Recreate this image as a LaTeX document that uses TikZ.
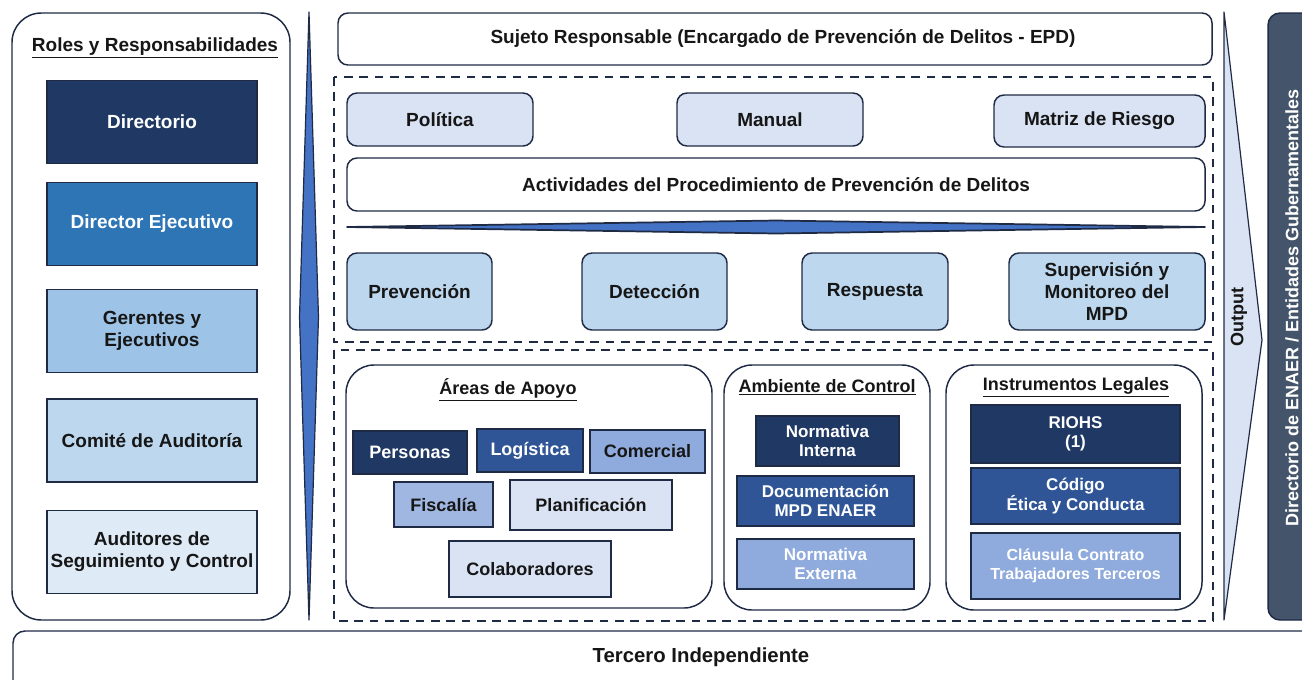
\documentclass[tikz,border=0pt]{standalone}
\usepackage{fontspec}
\setmainfont{Liberation Sans}
\usepackage{xcolor}
\definecolor{edge}{RGB}{31,42,68}
\definecolor{navy}{RGB}{31,56,100}
\definecolor{midblue}{RGB}{46,117,182}
\definecolor{royal}{RGB}{47,85,151}
\definecolor{periw}{RGB}{143,170,220}
\definecolor{sky}{RGB}{157,195,230}
\definecolor{pale}{RGB}{189,215,238}
\definecolor{paler}{RGB}{222,235,247}
\definecolor{ice}{RGB}{218,227,243}
\definecolor{slate}{RGB}{68,84,106}
\definecolor{spindle}{RGB}{68,114,196}
\definecolor{ink}{RGB}{22,22,22}

\tikzset{
  box/.style={draw=edge, line width=1.1pt, align=center, inner sep=0pt, text=ink,
    font=\bfseries\fontsize{14.25}{16.5}\selectfont},
  rbox/.style={box, rounded corners=7.5pt},
  darkbox/.style={box, text=white},
  mid/.style={font=\bfseries\fontsize{13.5}{15.5}\selectfont},
  small/.style={font=\bfseries\fontsize{12.75}{14.5}\selectfont},
  title/.style={inner sep=0pt, text=ink, font=\bfseries\fontsize{14.25}{16.5}\selectfont},
  panel/.style={draw=edge, line width=1.1pt, rounded corners=22pt},
  dashbox/.style={draw=edge, line width=1.1pt, dash pattern={on 6.5pt off 5pt}},
  wedge/.style={draw=edge, line width=0.9pt, line join=round}
}

\begin{document}
\begin{tikzpicture}[x=0.75pt,y=0.75pt,yscale=-1]
\useasboundingbox (0,0) rectangle (1302,679);
\clip (0,0) rectangle (1302,679);

%Shape: Rounded Rect (roles)
\draw [panel] (12,13) rectangle (290,620);
% Text Node
\node [title] (roles) at (155,48) {\underline{Roles y Responsabilidades}};
\node [darkbox, fill=navy, minimum width=157.5pt, minimum height=62.25pt] (directorio) at (152,122) {Directorio};
\node [darkbox, fill=midblue, minimum width=157.5pt, minimum height=62.25pt] (direjec) at (152,224) {Director Ejecutivo};
\node [box, fill=sky, minimum width=157.5pt, minimum height=62.25pt] (gerentes) at (152,331) {Gerentes y\\Ejecutivos};
\node [box, fill=pale, minimum width=157.5pt, minimum height=62.25pt] (comite) at (152,440.5) {Comité de Auditoría};
\node [box, fill=paler, minimum width=157.5pt, minimum height=62.25pt] (auditores) at (152,552) {Auditores de\\Seguimiento y Control};

%Shape: Vertical Spindle
\draw [wedge, fill=spindle] (309,12) -- (318.5,317) -- (309,620) -- (299.5,317) -- cycle;

% Text Node
\node [rbox, fill=white, minimum width=655.5pt, minimum height=39pt] (sujeto) at (775,39) {\hspace*{12pt}Sujeto Responsable (Encargado de Prevención de Delitos - EPD)};

%Shape: Dashed Rect (upper)
\draw [dashbox] (334,77) rectangle (1213,342);
\node [rbox, fill=ice, minimum width=139.5pt, minimum height=39.75pt] (politica) at (440,119.5) {Política};
\node [rbox, fill=ice, minimum width=139.5pt, minimum height=39.75pt] (manual) at (770,119.5) {Manual};
\node [rbox, fill=ice, minimum width=158.25pt, minimum height=39pt] (matriz) at (1099.5,121) {Matriz de Riesgo};
\node [rbox, fill=white, minimum width=643.5pt, minimum height=39.75pt] (actividades) at (776,184.5) {Actividades del Procedimiento de Prevención de Delitos};

%Shape: Horizontal Spindle
\draw [wedge, fill=spindle, line width=1.3pt] (347,227) -- (776,220.5) -- (1205,227) -- (776,233.5) -- cycle;

\node [rbox, fill=pale, minimum width=108.75pt, minimum height=57.75pt] (prevencion) at (419.5,291.5) {Prevención};
\node [rbox, fill=pale, minimum width=108.75pt, minimum height=57.75pt] (deteccion) at (654.5,291.5) {Detección};
\node [rbox, fill=pale, minimum width=109.5pt, minimum height=57.75pt] (respuesta) at (875,291.5) {Respuesta};
\node [rbox, fill=pale, minimum width=147pt, minimum height=57.75pt] (supervision) at (1107,291.5) {Supervisión y\\Monitoreo del\\MPD};

%Shape: Dashed Rect (lower)
\draw [dashbox] (334,350) rectangle (1213,621);

%Shape: Rounded Rect (areas)
\draw [panel, rounded corners=21pt] (346,365) rectangle (712,608);
\node [title, mid] (areas) at (508,390) {\underline{Áreas de Apoyo}};
\node [darkbox, mid, fill=navy, minimum width=85.5pt, minimum height=32.25pt] (personas) at (410,452.5) {Personas};
\node [darkbox, mid, fill=royal, minimum width=79.5pt, minimum height=32.25pt] (logistica) at (530,450.5) {Logística};
\node [box, mid, fill=periw, minimum width=86.25pt, minimum height=32.25pt] (comercial) at (647.5,451.5) {Comercial};
\node [box, mid, fill=periw!85!white, minimum width=74.25pt, minimum height=33.75pt] (fiscalia) at (443.5,504.5) {Fiscalía};
\node [box, mid, fill=ice, minimum width=121.5pt, minimum height=37.5pt] (planificacion) at (591,505) {Planificación};
\node [box, mid, fill=ice, minimum width=121.5pt, minimum height=42pt] (colaboradores) at (530,569) {Colaboradores};

%Shape: Rounded Rect (ambiente)
\draw [panel, rounded corners=21pt] (724,365) rectangle (930,610);
\node [title, mid] (ambiente) at (827,387) {\underline{Ambiente de Control}};
\node [darkbox, small, fill=navy, minimum width=107.25pt, minimum height=37.5pt] (normint) at (827.5,441) {Normativa\\Interna};
\node [darkbox, small, fill=royal, minimum width=132.75pt, minimum height=37.5pt] (docmpd) at (825.5,501) {Documentación\\MPD ENAER};
\node [darkbox, small, fill=periw, minimum width=132.75pt, minimum height=37.5pt] (normext) at (825.5,564) {Normativa\\Externa};

%Shape: Rounded Rect (instrumentos)
\draw [panel, rounded corners=21pt] (946,365) rectangle (1202,610);
\node [title, mid] (instrumentos) at (1076,387) {\underline{Instrumentos Legales}};
\node [darkbox, small, fill=navy, minimum width=156.75pt, minimum height=43.5pt] (riohs) at (1075.5,434) {RIOHS\\(1)};
\node [darkbox, small, fill=royal, minimum width=156.75pt, minimum height=42pt] (codigo) at (1075.5,496) {Código\\Ética y Conducta};
\node [darkbox, fill=periw, minimum width=156.75pt, minimum height=49.5pt, font=\bfseries\fontsize{12}{14}\selectfont] (clausula) at (1075.5,566) {Cláusula Contrato\\Trabajadores Terceros};

%Shape: Output Arrow
\draw [wedge, fill=ice] (1224,12) -- (1262,340) -- (1224,620) -- cycle;
\node [title, mid, rotate=90] (output) at (1239,317) {Output};

%Shape: Right Panel
\draw [draw=edge, line width=1.1pt, fill=slate, rounded corners=9pt] (1268,13) rectangle (1330,620);
\node [title, mid, rotate=90, text=white] (enaer) at (1292,308) {Directorio de ENAER / Entidades Gubernamentales};

%Shape: Bottom Bar
\draw [panel, rounded corners=9pt] (13,631) rectangle (1330,700);
\node [title, font=\bfseries\fontsize{15.25}{17}\selectfont] (tercero) at (701,657) {Tercero Independiente};

\end{tikzpicture}
\end{document}
